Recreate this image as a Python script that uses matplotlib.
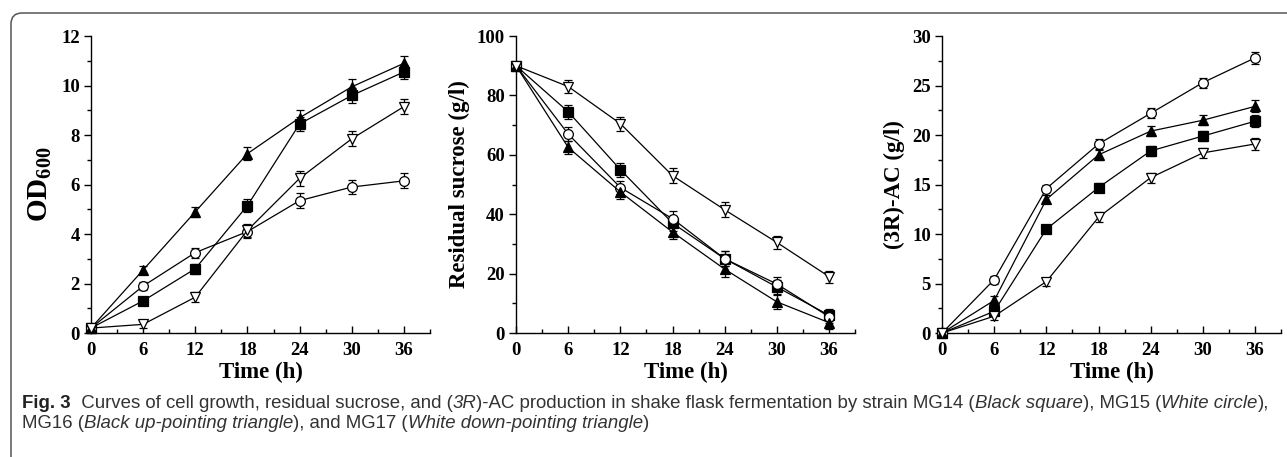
import matplotlib
matplotlib.use("Agg")
import matplotlib.pyplot as plt
from matplotlib.patches import FancyBboxPatch
from matplotlib.transforms import IdentityTransform
from matplotlib.ticker import MultipleLocator

plt.rcParams["mathtext.fontset"] = "custom"
plt.rcParams["mathtext.rm"] = "Liberation Serif:bold"
plt.rcParams["mathtext.bf"] = "Liberation Serif:bold"
plt.rcParams["mathtext.it"] = "Liberation Serif:bold"

time_h = [0, 6, 12, 18, 24, 30, 36]
strains = ["MG14", "MG15", "MG16", "MG17"]

# Panel A: OD600
od_mg14 = [0.2, 1.3, 2.6, 5.15, 8.45, 9.6, 10.55]
od_mg15 = [0.2, 1.9, 3.25, 4.1, 5.35, 5.9, 6.15]
od_mg16 = [0.2, 2.55, 4.9, 7.25, 8.7, 9.95, 10.9]
od_mg17 = [0.2, 0.35, 1.45, 4.15, 6.25, 7.85, 9.15]
od_err = [0.05, 0.15, 0.2, 0.25, 0.3, 0.3, 0.3]

# Panel B: residual sucrose (g/l)
suc_mg14 = [90, 74.5, 55, 37, 25, 15.5, 6]
suc_mg15 = [90, 67, 49, 38.5, 25, 16.5, 5.5]
suc_mg16 = [90, 62.5, 47.5, 34, 21.5, 10.5, 3.5]
suc_mg17 = [90, 83, 70.5, 53, 41.5, 30.5, 19]
suc_err = [0.5, 2.3, 2.3, 2.5, 2.5, 2.3, 2.0]

# Panel C: (3R)-AC (g/l)
ac_mg14 = [0, 2.2, 10.5, 14.7, 18.4, 19.9, 21.4]
ac_mg15 = [0, 5.4, 14.6, 19.1, 22.2, 25.3, 27.8]
ac_mg16 = [0, 3.3, 13.5, 18.0, 20.4, 21.5, 22.9]
ac_mg17 = [0, 1.7, 5.2, 11.7, 15.7, 18.2, 19.1]
ac_err = [0.1, 0.4, 0.4, 0.5, 0.5, 0.5, 0.6]

markers = {"MG14": ("s", "black", 6.5), "MG15": ("o", "white", 7),
           "MG16": ("^", "black", 7.5), "MG17": ("v", "white", 7.5)}

fig = plt.figure(figsize=(12.87, 4.57), dpi=100)

serif = ["Liberation Serif", "DejaVu Serif"]

panels = [
    (0.0707, [od_mg14, od_mg15, od_mg16, od_mg17], od_err, (0, 12), 2, 1, "OD"),
    (0.401, [suc_mg14, suc_mg15, suc_mg16, suc_mg17], suc_err, (0, 100), 20, 10, "Residual sucrose (g/l)"),
    (0.732, [ac_mg14, ac_mg15, ac_mg16, ac_mg17], ac_err, (0, 30), 5, 2.5, "(3R)-AC (g/l)"),
]

for left, series, err, ylim, major, minor, ylabel in panels:
    ax = fig.add_axes([left, 0.2713, 0.2634, 0.6497])
    for name, vals in zip(strains, series):
        m, fc, ms = markers[name]
        ax.errorbar(time_h, vals, yerr=err, color="black", lw=0.9,
                    marker=m, markersize=ms, markerfacecolor=fc,
                    markeredgecolor="black", markeredgewidth=0.9,
                    ecolor="black", elinewidth=0.9, capsize=3, capthick=0.9,
                    clip_on=False, zorder=3)
    ax.set_xlim(0, 39)
    ax.set_ylim(*ylim)
    ax.xaxis.set_minor_locator(MultipleLocator(3))
    ax.yaxis.set_major_locator(MultipleLocator(major))
    ax.yaxis.set_minor_locator(MultipleLocator(minor))
    ax.spines["top"].set_visible(False)
    ax.spines["right"].set_visible(False)
    for s in ("left", "bottom"):
        ax.spines[s].set_linewidth(1.0)
    ax.tick_params(axis="x", which="both", direction="in", width=1.0)
    ax.tick_params(axis="y", which="both", direction="out", width=1.0)
    ax.tick_params(which="major", length=5)
    ax.tick_params(which="minor", length=3)
    ax.set_xticks(time_h)
    ax.set_xticklabels([str(t) for t in time_h])
    for lab in ax.get_xticklabels() + ax.get_yticklabels():
        lab.set_fontfamily(serif)
        lab.set_fontweight("bold")
        lab.set_fontsize(13.5)
    ax.tick_params(axis="x", pad=6.5)
    ax.tick_params(axis="y", pad=3)
    ax.set_xlabel("Time (h)", fontfamily=serif, fontweight="bold", fontsize=16.5, labelpad=2)
    if ylabel == "OD":
        ax.set_ylabel(r"OD$_{\mathbf{600}}$", fontfamily=serif, fontweight="bold", fontsize=21, labelpad=5)
    else:
        ax.set_ylabel(ylabel, fontfamily=serif, fontweight="bold", fontsize=16.5, labelpad=5)

# frame with small rounded corner (pixel coordinates)
frame = FancyBboxPatch((11, -60), 1400, 457 - 13 + 60,
                       boxstyle="round,pad=0,rounding_size=11",
                       transform=IdentityTransform(), fill=False,
                       edgecolor="#555555", lw=1.1, clip_on=False)
fig.patches.append(frame)

# caption
cap_font = ["Liberation Sans", "DejaVu Sans"]
line1 = [("Fig. 3", "normal", "bold"), ("  Curves of cell growth, residual sucrose, and (", "normal", "normal"),
         ("3R", "italic", "normal"), (")-AC production in shake flask fermentation by strain MG14 (", "normal", "normal"),
         ("Black square", "italic", "normal"), ("), MG15 (", "normal", "normal"),
         ("White circle", "italic", "normal"), ("),", "normal", "normal")]
line2 = [("MG16 (", "normal", "normal"), ("Black up-pointing triangle", "italic", "normal"),
         ("), and MG17 (", "normal", "normal"), ("White down-pointing triangle", "italic", "normal"),
         (")", "normal", "normal")]

fig.canvas.draw()
renderer = fig.canvas.get_renderer()

def line_width(parts, fs):
    w = 0
    tmp = []
    for txt, style, weight in parts:
        t = fig.text(0, 0, txt, fontfamily=cap_font, fontstyle=style,
                     fontweight=weight, fontsize=fs)
        w += t.get_window_extent(renderer=renderer).width
        tmp.append(t)
    for t in tmp:
        t.remove()
    return w

base = 12.0
target = 1274 - 22
fs = base * target / line_width(line1, base)

for y_px, parts in ((403, line1), (423, line2)):
    x = 22 / 1287
    for txt, style, weight in parts:
        t = fig.text(x, 1 - y_px / 457, txt, fontfamily=cap_font, fontstyle=style,
                     fontweight=weight, fontsize=fs,
                     color="#222222" if weight == "bold" else "#333333",
                     va="center", ha="left")
        bb = t.get_window_extent(renderer=renderer)
        x += bb.width / fig.bbox.width

fig.savefig("out.png", dpi=100)
